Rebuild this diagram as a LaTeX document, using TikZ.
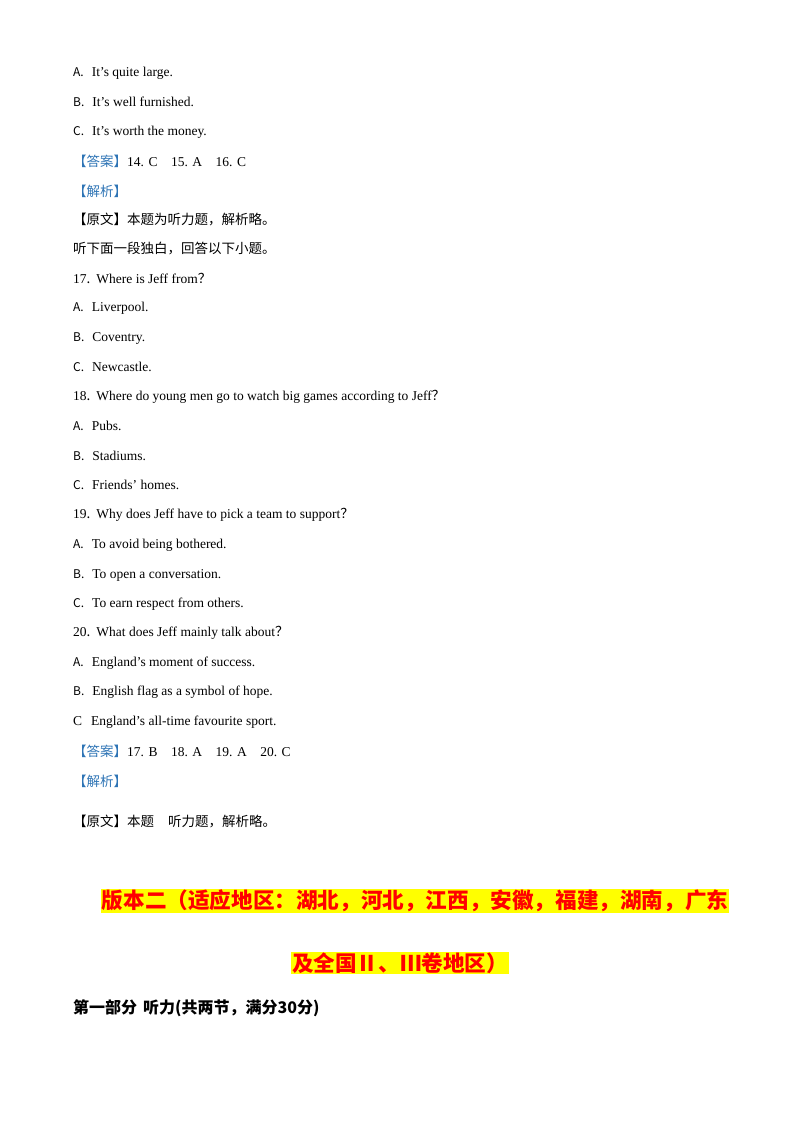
\documentclass[tikz,border=0pt]{standalone}
\usepackage{fontspec}
\setmainfont{Liberation Serif}
\newfontfamily\cjk{Noto Sans CJK SC}
\definecolor{ansblue}{HTML}{2E74B5}
\definecolor{hred}{HTML}{FF0000}
\definecolor{hyel}{HTML}{FFFF00}
\begin{document}
\begin{tikzpicture}[x=1pt,y=-1pt,
  txt/.style={anchor=west,inner sep=0pt,font=\fontsize{13.5}{15}\selectfont},
  head/.style={anchor=center,inner sep=1pt,fill=hyel,text=hred,font=\cjk\bfseries\fontsize{21.6}{24}\selectfont}]
\useasboundingbox (0,0) rectangle (800,1132);
\newcommand\lt[2]{{\cjk\fontsize{12}{14}\selectfont #1}\hspace{8pt}#2}
\node[txt] (l1) at (73,73) {\lt{A.}{It’s quite large.}};
\node[txt] (l2) at (73,102) {\lt{B.}{It’s well furnished.}};
\node[txt] (l3) at (73,132) {\lt{C.}{It’s worth the money.}};
\node[txt] (l4) at (73,161) {{\cjk\color{ansblue}【答案】}14. C\quad 15. A\quad 16. C};
\node[txt] (l5) at (73,191) {{\cjk\color{ansblue}【解析】}};
\node[txt] (l6) at (73,220) {{\cjk 【原文】本题为听力题，解析略。}};
\node[txt] (l7) at (73,249) {{\cjk 听下面一段独白，回答以下小题。}};
\node[txt] (l8) at (73,278) {17{\cjk .}\hspace{6pt}Where is Jeff from{\cjk ？}};
\node[txt] (l9) at (73,308) {\lt{A.}{Liverpool.}};
\node[txt] (l10) at (73,338) {\lt{B.}{Coventry.}};
\node[txt] (l11) at (73,367) {\lt{C.}{Newcastle.}};
\node[txt] (l12) at (73,397) {18{\cjk .}\hspace{6pt}Where do young men go to watch big games according to Jeff{\cjk ？}};
\node[txt] (l13) at (73,426) {\lt{A.}{Pubs.}};
\node[txt] (l14) at (73,456) {\lt{B.}{Stadiums.}};
\node[txt] (l15) at (73,485) {\lt{C.}{Friends’ homes.}};
\node[txt] (l16) at (73,515) {19{\cjk .}\hspace{6pt}Why does Jeff have to pick a team to support{\cjk ？}};
\node[txt] (l17) at (73,545) {\lt{A.}{To avoid being bothered.}};
\node[txt] (l18) at (73,575) {\lt{B.}{To open a conversation.}};
\node[txt] (l19) at (73,604) {\lt{C.}{To earn respect from others.}};
\node[txt] (l20) at (73,633) {20{\cjk .}\hspace{6pt}What does Jeff mainly talk about{\cjk ？}};
\node[txt] (l21) at (73,663) {\lt{A.}{England’s moment of success.}};
\node[txt] (l22) at (73,692) {\lt{B.}{English flag as a symbol of hope.}};
\node[txt] (l23) at (73,722) {C\hspace{9pt}England’s all-time favourite sport.};
\node[txt] (l24) at (73,751) {{\cjk\color{ansblue}【答案】}17. B\quad 18. A\quad 19. A\quad 20. C};
\node[txt] (l25) at (73,781) {{\cjk\color{ansblue}【解析】}};
\node[txt] (l26) at (73,821) {{\cjk 【原文】本题\hspace{14pt}听力题，解析略。}};
\node[head] (h1) at (415,901) {版本二（适应地区：湖北，河北，江西，安徽，福建，湖南，广东};
\node[head] (h2) at (400,963) {及全国Ⅱ、Ⅲ卷地区）};
\node[txt,font=\cjk\bfseries\fontsize{16}{18}\selectfont] (p1) at (73,1008) {第一部分\hspace{6pt}听力(共两节，满分30分)};
\end{tikzpicture}
\end{document}
